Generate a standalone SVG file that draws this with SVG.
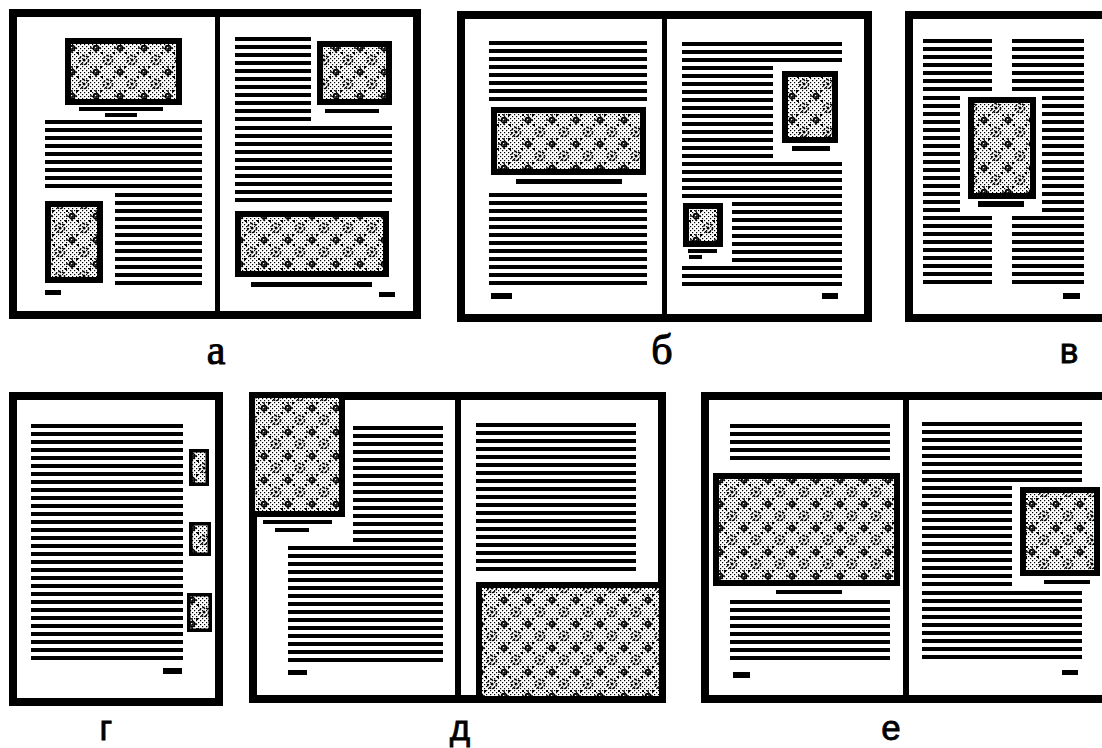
<svg xmlns="http://www.w3.org/2000/svg" width="1102" height="748" viewBox="0 0 1102 748">
<defs>
<pattern id="tl" width="20" height="8" patternUnits="userSpaceOnUse"><rect width="20" height="4" fill="#000"/></pattern>
<pattern id="dth" width="4" height="4" patternUnits="userSpaceOnUse">
<rect width="4" height="4" fill="#fff"/>
<rect x="0" y="0" width="1.2" height="1.2" fill="#000"/>
<rect x="2" y="2" width="1.2" height="1.2" fill="#000"/>
</pattern>
<pattern id="orn" width="24" height="24" patternUnits="userSpaceOnUse">
<rect width="24" height="24" fill="url(#dth)"/>
<g fill="none" stroke="#000" stroke-width="1.5">
<circle cx="12" cy="12" r="4.5" stroke-dasharray="2.4 1.4"/>
<path d="M0 -6V6M-6 0H6M24 -6V6M18 0H30M0 18V30M-6 24H6M24 18V30M18 24H30" stroke-dasharray="2 1"/>
<circle cx="0" cy="0" r="2.6"/><circle cx="24" cy="0" r="2.6"/><circle cx="0" cy="24" r="2.6"/><circle cx="24" cy="24" r="2.6"/>
</g>
<g fill="#000">
<circle cx="12" cy="12" r="1.5"/>
<rect x="5" y="4" width="2" height="2"/><rect x="17" y="4" width="2" height="2"/>
<rect x="4" y="18" width="2" height="2"/><rect x="18" y="18" width="2" height="2"/>
</g>
</pattern>
<style>
.fr{fill:none;stroke:#000;stroke-width:8}
.dv{fill:#000}
.tx{fill:url(#tl)}
.bar{fill:#000}
.img{fill:url(#orn);stroke:#000;stroke-width:6}
.ims{fill:url(#orn);stroke:#000;stroke-width:3.5}
.lbs{font-family:"Liberation Serif","DejaVu Serif",serif;font-size:42px;fill:#000;stroke:#000;stroke-width:1;text-anchor:middle}
.lbn{font-family:"Liberation Sans","DejaVu Sans",sans-serif;font-size:35px;fill:#000;stroke:#000;stroke-width:0.8;text-anchor:middle}
</style>
</defs>
<rect width="1102" height="748" fill="#fff"/>

<g id="panel-a">
<rect class="fr" x="13" y="13" width="404" height="302"/>
<rect class="dv" x="215" y="13" width="5" height="302"/>
<rect class="img" x="68" y="41" width="111" height="61"/>
<rect class="bar" x="79" y="107" width="84" height="4"/>
<rect class="bar" x="105" y="113" width="32" height="4"/>
<rect class="tx" transform="translate(45,120)" width="157" height="68"/>
<rect class="tx" transform="translate(115,193)" width="87" height="92"/>
<rect class="img" x="48" y="204" width="52" height="76"/>
<rect class="bar" x="45" y="290" width="16" height="5"/>
<rect class="tx" transform="translate(235,37)" width="76" height="84"/>
<rect class="img" x="320" y="44" width="69" height="58"/>
<rect class="bar" x="325" y="109" width="54" height="4"/>
<rect class="tx" transform="translate(235,126)" width="157" height="76"/>
<rect class="img" x="238" y="214" width="148" height="60"/>
<rect class="bar" x="251" y="282" width="121" height="5"/>
<rect class="bar" x="379" y="292" width="16" height="5"/>
<text class="lbs" x="216" y="364">а</text>
</g>

<g id="panel-b">
<rect class="fr" x="461" y="15" width="407" height="303"/>
<rect class="dv" x="662" y="15" width="5" height="303"/>
<rect class="tx" transform="translate(489,41)" width="158" height="60"/>
<rect class="img" x="494" y="110" width="149" height="62"/>
<rect class="bar" x="516" y="179" width="106" height="5"/>
<rect class="tx" transform="translate(489,193)" width="158" height="92"/>
<rect class="bar" x="491" y="293" width="21" height="6"/>
<rect class="tx" transform="translate(682,42)" width="160" height="20"/>
<rect class="tx" transform="translate(682,66)" width="91" height="92"/>
<rect class="img" x="785" y="74" width="50" height="66"/>
<rect class="bar" x="792" y="146" width="38" height="5"/>
<rect class="tx" transform="translate(682,162)" width="160" height="36"/>
<rect class="tx" transform="translate(732,202)" width="110" height="60"/>
<rect class="img" x="686" y="206" width="34" height="38"/>
<rect class="bar" x="688" y="249" width="29" height="4"/>
<rect class="bar" x="689" y="255" width="13" height="4"/>
<rect class="tx" transform="translate(682,266)" width="160" height="20"/>
<rect class="bar" x="822" y="293" width="16" height="6"/>
<text class="lbs" x="662" y="364">б</text>
</g>

<g id="panel-v">
<rect class="fr" x="909" y="15" width="200" height="303"/>
<rect class="tx" transform="translate(923,39)" width="69" height="52"/>
<rect class="tx" transform="translate(1012,39)" width="72" height="52"/>
<rect class="tx" transform="translate(923,96)" width="37" height="116"/>
<rect class="tx" transform="translate(1042,96)" width="42" height="116"/>
<rect class="img" x="971" y="100" width="62" height="96"/>
<rect class="bar" x="978" y="201" width="46" height="6"/>
<rect class="tx" transform="translate(923,216)" width="69" height="68"/>
<rect class="tx" transform="translate(1012,216)" width="72" height="68"/>
<rect class="bar" x="1063" y="293" width="17" height="6"/>
<text class="lbn" x="1069" y="363">в</text>
</g>

<g id="panel-g">
<rect class="fr" x="13" y="396" width="206" height="306"/>
<rect class="tx" transform="translate(31,424)" width="152" height="236"/>
<rect class="ims" x="190.75" y="450.75" width="16.5" height="33.5"/>
<rect class="ims" x="190.75" y="523.75" width="18.5" height="30.5"/>
<rect class="ims" x="188.75" y="594.75" width="21.5" height="35.5"/>
<rect class="bar" x="163" y="668" width="19" height="6"/>
<text class="lbn" x="106" y="740">г</text>
</g>

<g id="panel-d">
<rect class="fr" x="253" y="396" width="409" height="303"/>
<rect class="dv" x="455" y="396" width="6" height="303"/>
<rect class="img" x="252" y="395" width="90" height="119"/>
<rect class="bar" x="263" y="520" width="69" height="4"/>
<rect class="bar" x="275" y="528" width="34" height="4"/>
<rect class="tx" transform="translate(353,426)" width="90" height="116"/>
<rect class="tx" transform="translate(288,546)" width="155" height="116"/>
<rect class="bar" x="288" y="670" width="19" height="5"/>
<rect class="tx" transform="translate(476,423)" width="160" height="148"/>
<rect class="img" x="479" y="585" width="183" height="114"/>
<text class="lbn" x="460" y="740">д</text>
</g>

<g id="panel-e">
<rect class="fr" x="705" y="396" width="405" height="303"/>
<rect class="dv" x="903" y="396" width="6" height="303"/>
<rect class="tx" transform="translate(730,424)" width="160" height="36"/>
<rect class="img" x="716" y="476" width="181" height="107"/>
<rect class="bar" x="776" y="590" width="66" height="4"/>
<rect class="tx" transform="translate(730,600)" width="160" height="60"/>
<rect class="bar" x="733" y="672" width="17" height="6"/>
<rect class="tx" transform="translate(922,422)" width="160" height="60"/>
<rect class="tx" transform="translate(922,486)" width="90" height="100"/>
<rect class="img" x="1023" y="490" width="74" height="83"/>
<rect class="bar" x="1044" y="580" width="46" height="4"/>
<rect class="tx" transform="translate(922,591)" width="160" height="68"/>
<rect class="bar" x="1062" y="670" width="16" height="5"/>
<text class="lbn" x="891" y="740">е</text>
</g>
</svg>
